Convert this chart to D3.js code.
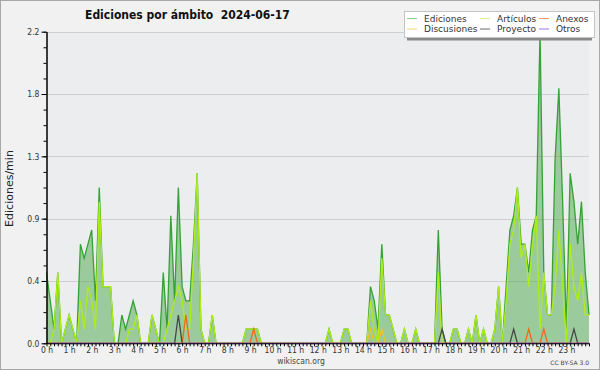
<!DOCTYPE html>
<html>
<head>
<meta charset="utf-8">
<script src="https://cdn.jsdelivr.net/npm/d3@7"></script>
<style>
  body { margin: 0; background: #f1f1f1; }
  svg { display: block; }
</style>
</head>
<body>
<div id="chart"></div>
<script>
const WIDTH = 600, HEIGHT = 370
const PLOT = {LEFT: 46.5, RIGHT: 589, TOP: 31.7, BOTTOM: 343.3}

// etiquetas del eje x (una cada 6 intervalos de 10 min)
const horas = ["0 h","1 h","2 h","3 h","4 h","5 h","6 h","7 h","8 h","9 h","10 h","11 h",
               "12 h","13 h","14 h","15 h","16 h","17 h","18 h","19 h","20 h","21 h","22 h","23 h"]

const yTicks = [0, 0.44, 0.88, 1.32, 1.76, 2.2]

// ediciones/min, un valor cada 10 minutos (6 por linea = 1 hora)
const ediciones = [
  0.5,0.3,0.1,0.5,0,0.1,   0.2,0.1,0,0.7,0.6,0.7,   0.8,0.3,1.1,0.4,0.4,0.4,  0,0,0.2,0.1,0.2,0.3,
  0.2,0,0,0,0.2,0.1,       0,0.5,0.1,0.9,0.3,1.1,   0.4,0.3,0.3,0.7,1.2,0.1,  0,0,0.2,0,0,0,
  0,0,0,0,0,0.1,           0.1,0.1,0.1,0,0,0,       0,0,0,0,0,0,              0,0,0,0,0,0,
  0,0,0,0.1,0,0,           0,0.1,0.1,0,0,0,         0,0,0.4,0.3,0.1,0.7,      0.2,0.2,0.1,0,0,0.1,
  0,0,0.1,0,0,0,           0,0,0.8,0.1,0,0,         0.1,0.1,0,0,0.1,0,        0.2,0,0.1,0,0,0.1,
  0.4,0,0.4,0.8,0.9,1.1,   0.7,0.7,0.5,0.8,0.9,2.2, 0.5,0.2,0.2,1.3,1.8,1.0,  0.1,1.2,1.0,0.7,1.0,0.5,
  0.2
]
const articulos = [
  0,0,0.1,0.5,0,0.1,       0.2,0.1,0,0.3,0.1,0.4,   0.3,0.1,1.0,0.4,0.4,0.4,  0,0,0,0,0.1,0.1,
  0.2,0,0,0,0.2,0.1,       0,0,0.1,0.2,0.3,0.4,     0.3,0.1,0.1,0.6,1.2,0.1,  0,0,0.2,0,0,0,
  0,0,0,0,0,0.1,           0.1,0.1,0.1,0,0,0,       0,0,0,0,0,0,              0,0,0,0,0,0,
  0,0,0,0.1,0,0,           0,0.1,0.1,0,0,0,         0,0,0.3,0.1,0,0.6,        0.2,0.2,0.1,0,0,0.1,
  0,0,0.1,0,0,0,           0,0,0.5,0,0,0,           0.1,0.1,0,0,0.1,0,        0.2,0,0.1,0,0,0.1,
  0.4,0,0.3,0.7,0.8,1.1,   0.6,0.7,0.4,0.7,0.9,0.1, 0.5,0.2,0.2,0.4,0.8,0.4,  0,0.7,0.4,0.3,0.5,0.2,
  0.2
]
const discusiones = [
  0,0,0,0,0,0, 0,0,0,0,0,0, 0,0,0,0,0,0, 0,0,0,0,0,0,
  0,0,0,0,0,0, 0,0,0,0,0,0, 0,0,0,0,0,0, 0,0,0,0,0,0,
  0,0,0,0,0,0, 0,0,0,0,0,0, 0,0,0,0,0,0, 0,0,0,0,0,0,
  0,0,0,0,0,0, 0,0,0,0,0,0, 0,0,0.1,0,0,0.1, 0,0,0,0,0,0,
  0,0,0,0,0,0, 0,0,0,0,0,0, 0,0,0,0,0,0, 0,0,0,0,0,0,
  0,0,0,0,0,0, 0,0,0,0,0,0, 0,0,0,0,0,0, 0,0,0,0,0,0,
  0
]
const proyecto = [
  0,0,0,0,0,0, 0,0,0,0,0,0, 0,0,0,0,0,0, 0,0,0,0,0,0,
  0,0,0,0,0,0, 0,0,0,0,0,0.2, 0,0,0,0,0,0, 0,0,0,0,0,0,
  0,0,0,0,0,0, 0,0,0,0,0,0, 0,0,0,0,0,0, 0,0,0,0,0,0,
  0,0,0,0,0,0, 0,0,0,0,0,0, 0,0,0,0,0,0, 0,0,0,0,0,0,
  0,0,0,0,0,0, 0,0,0,0.1,0,0, 0,0,0,0,0,0, 0,0,0,0,0,0,
  0,0,0,0,0.1,0, 0,0,0,0,0,0, 0,0,0,0,0,0, 0,0,0.1,0,0,0,
  0
]
const anexos = [
  0,0,0,0,0,0, 0,0,0,0,0,0, 0,0,0,0,0,0, 0,0,0,0,0,0,
  0,0,0,0,0,0, 0,0,0,0,0,0, 0,0.2,0,0,0,0, 0,0,0,0,0,0,
  0,0,0,0,0,0, 0,0.1,0,0,0,0, 0,0,0,0,0,0, 0,0,0,0,0,0,
  0,0,0,0,0,0, 0,0,0,0,0,0, 0,0,0,0,0,0, 0,0,0,0,0,0,
  0,0,0,0,0,0, 0,0,0,0,0,0, 0,0,0,0,0,0, 0,0,0,0,0,0,
  0,0,0,0,0,0, 0,0,0.1,0,0,0, 0.1,0,0,0,0,0, 0,0,0,0,0,0,
  0
]
const otros = ediciones.map(() => 0)

const nombres = ["Ediciones", "Artículos", "Anexos", "Discusiones", "Proyecto", "Otros"]
const colores = {
  "Ediciones": "#35a235", "Artículos": "#aeee16", "Anexos": "#f06818",
  "Discusiones": "#f0c41c", "Proyecto": "#474747", "Otros": "#9a50ee"
}
const coloresLeyenda = {
  "Ediciones": "#8fd08f", "Artículos": "#d6f28a", "Anexos": "#f29a68",
  "Discusiones": "#f5d670", "Proyecto": "#6a6a6a", "Otros": "#a472f0"
}

const svg = d3.select("#chart").append("svg")
    .attr("width", WIDTH)
    .attr("height", HEIGHT)
    .style("font-family", "'DejaVu Sans', sans-serif")

// fondo y borde
svg.append("rect")
    .attr("x", 0.5).attr("y", 0.5)
    .attr("width", WIDTH - 1).attr("height", HEIGHT - 1)
    .attr("fill", "#f1f1f1").attr("stroke", "#a8a8a8")

svg.append("rect")
    .attr("x", PLOT.LEFT).attr("y", PLOT.TOP)
    .attr("width", PLOT.RIGHT - PLOT.LEFT).attr("height", PLOT.BOTTOM - PLOT.TOP)
    .attr("fill", "#ecedef")

const x = d3.scaleLinear().domain([0, ediciones.length - 1]).range([PLOT.LEFT, PLOT.RIGHT])
const y = d3.scaleLinear().domain([0, 2.2]).range([PLOT.BOTTOM, PLOT.TOP])

// rejilla
svg.append("g").selectAll("line")
    .data(yTicks.slice(1))
    .enter().append("line")
    .attr("x1", PLOT.LEFT).attr("x2", PLOT.RIGHT)
    .attr("y1", d => Math.round(y(d)) + 0.5).attr("y2", d => Math.round(y(d)) + 0.5)
    .attr("stroke", "#cfcfcf")

// area + lineas
const area = d3.area()
    .x((d, i) => x(i))
    .y0(y(0))
    .y1(d => y(d))
const line = d3.line()
    .x((d, i) => x(i))
    .y(d => y(d))

svg.append("path")
    .attr("d", area(ediciones))
    .attr("fill", "#3a9f3a")
    .attr("fill-opacity", 0.45)

const series = {
  "Ediciones": ediciones, "Artículos": articulos, "Anexos": anexos,
  "Discusiones": discusiones, "Proyecto": proyecto, "Otros": otros
}
nombres.forEach(n => {
  svg.append("path")
      .attr("d", line(series[n]))
      .attr("fill", "none")
      .attr("stroke", colores[n])
      .attr("stroke-width", 1.3)
      .attr("stroke-linejoin", "miter")
})

// ejes
const yAxis = svg.append("g")
    .attr("transform", `translate(${PLOT.LEFT},0)`)
    .call(d3.axisLeft(y).tickValues(yTicks).tickFormat(d3.format(".1f"))
          .tickSize(5).tickSizeOuter(0).tickPadding(2))
svg.append("g")
    .attr("transform", `translate(${PLOT.LEFT},0)`)
    .call(d3.axisLeft(y).tickValues(d3.range(0, 21).map(k => k * 0.11)).tickFormat("")
          .tickSize(3).tickSizeOuter(0))

const xAxis = svg.append("g")
    .attr("transform", `translate(0,${PLOT.BOTTOM})`)
    .call(d3.axisBottom(x).tickValues(d3.range(ediciones.length))
          .tickFormat(d => d % 6 === 0 ? horas[d / 6] : "")
          .tickSize(3).tickSizeOuter(0).tickPadding(1))

svg.selectAll(".domain").attr("stroke", "#000")
svg.selectAll(".tick line").attr("stroke", "#000")
svg.selectAll(".tick text")
    .attr("fill", "#333")
    .style("font-family", "'DejaVu Sans Condensed', 'DejaVu Sans', sans-serif")
    .style("font-size", "8.5px")

// titulos
svg.append("text")
    .attr("x", 85).attr("y", 19.3)
    .style("font-family", "'DejaVu Sans Condensed', 'DejaVu Sans', sans-serif")
    .style("font-weight", "bold")
    .style("font-size", "12px")
    .attr("fill", "#111")
    .attr("xml:space", "preserve")
    .text("Ediciones por ámbito  2024-06-17")

svg.append("text")
    .attr("transform", "translate(13,188.5) rotate(-90)")
    .attr("text-anchor", "middle")
    .style("font-size", "11px")
    .attr("fill", "#222")
    .text("Ediciones/min")

svg.append("text")
    .attr("x", 301).attr("y", 364)
    .attr("text-anchor", "middle")
    .style("font-family", "'DejaVu Sans Condensed', 'DejaVu Sans', sans-serif")
    .style("font-size", "8.5px")
    .attr("fill", "#444")
    .text("wikiscan.org")

svg.append("text")
    .attr("x", 589).attr("y", 365)
    .attr("text-anchor", "end")
    .style("font-size", "6px")
    .attr("fill", "#444")
    .text("CC BY-SA 3.0")

// leyenda
const leyenda = svg.append("g")
leyenda.append("rect")
    .attr("x", 407).attr("y", 37.5).attr("width", 185).attr("height", 3)
    .attr("fill", "#8a8a8a")
leyenda.append("rect")
    .attr("x", 404.5).attr("y", 11.5).attr("width", 190).attr("height", 26)
    .attr("fill", "#fff").attr("stroke", "#c4c4c4")

const colX = [407, 480, 539]
const rowY = [18.5, 29]
nombres.forEach((n, k) => {
  const cx = colX[k % 3], cy = rowY[Math.floor(k / 3)]
  leyenda.append("line")
      .attr("x1", cx).attr("x2", cx + 10)
      .attr("y1", cy).attr("y2", cy)
      .attr("stroke", coloresLeyenda[n])
  leyenda.append("text")
      .attr("x", cx + 17).attr("y", cy + 3.3)
      .style("font-size", "9px")
      .attr("fill", "#333")
      .text(n)
})
</script>
</body>
</html>
